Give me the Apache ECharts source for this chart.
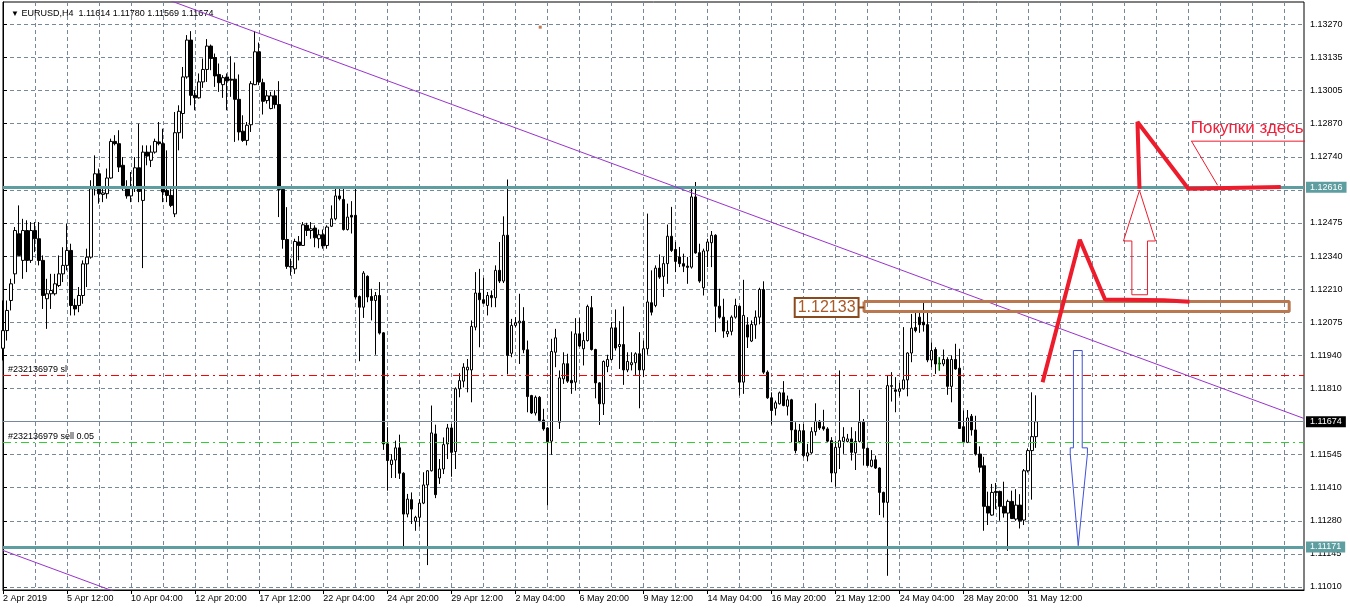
<!DOCTYPE html>
<html>
<head>
<meta charset="utf-8">
<script src="https://cdn.jsdelivr.net/npm/echarts@6/dist/echarts.min.js"></script>
<style>
html, body { margin: 0; padding: 0; background: #fff; }
#chart { width: 1350px; height: 611px; }
</style>
</head>
<body>
<div id="chart"></div>
<script>
"use strict";
var chartFont = 'Liberation Sans, Arial, sans-serif';
var gridColor = '#778899';

/* EURUSD H4 bars, 2 Apr 2019 20:00 .. 31 May 2019 20:00 */
var opens = [1.11969,1.12040,1.12161,1.12268,1.12429,1.12322,1.12442,1.12322,1.12442,1.12409,
	1.12322,1.12168,1.12188,1.12188,1.12221,1.12268,1.12302,1.12362,1.12141,1.12141,
	1.12181,1.12308,1.12335,1.12610,1.12670,1.12587,1.12590,1.12653,1.12800,1.12791,
	1.12704,1.12613,1.12581,1.12613,1.12694,1.12563,1.12757,1.12724,1.12757,1.12798,
	1.12791,1.12603,1.12583,1.12509,1.12835,1.12912,1.13059,1.13207,1.12985,1.12975,
	1.13039,1.13089,1.13183,1.13137,1.13069,1.13028,1.13059,1.13050,1.13050,1.12969,
	1.12841,1.12804,1.12867,1.13028,1.13160,1.13036,1.12964,1.12932,1.12983,1.12948,
	1.12607,1.12406,1.12298,1.12288,1.12396,1.12382,1.12463,1.12442,1.12452,1.12409,
	1.12425,1.12382,1.12459,1.12489,1.12581,1.12567,1.12446,1.12503,1.12503,1.12177,
	1.12134,1.12258,1.12177,1.12161,1.12181,1.12031,1.11585,1.11502,1.11520,1.11569,
	1.11467,1.11303,1.11361,1.11274,1.11290,1.11347,1.11420,1.11477,1.11625,1.11448,
	1.11484,1.11585,1.11649,1.11554,1.11806,1.11837,1.11882,1.11882,1.12054,1.12191,
	1.12164,1.12141,1.12181,1.12172,1.12282,1.12239,1.12423,1.11949,1.12061,1.12071,
	1.12078,1.11963,1.11779,1.11709,1.11772,1.11681,1.11649,1.11596,1.11953,1.11672,
	1.11846,1.11907,1.11840,1.11833,1.12027,1.11967,1.12000,1.12132,1.11964,1.11830,
	1.11746,1.11896,1.11924,1.12051,1.11976,1.11984,1.11882,1.11903,1.11911,1.11947,
	1.11882,1.11967,1.12152,1.12141,1.12291,1.12258,1.12309,1.12419,1.12366,1.12336,
	1.12309,1.12299,1.12295,1.12577,1.12353,1.12212,1.12360,1.12393,1.12423,1.12138,
	1.12094,1.12027,1.12037,1.12094,1.12138,1.11833,1.12063,1.11998,1.12063,1.12094,
	1.12205,1.11873,1.11770,1.11728,1.11746,1.11790,1.11736,1.11762,1.11641,1.11594,
	1.11638,1.11536,1.11549,1.11634,1.11676,1.11654,1.11645,1.11598,1.11468,1.11571,
	1.11595,1.11595,1.11605,1.11549,1.11595,1.11672,1.11567,1.11495,1.11521,1.11488,
	1.11390,1.11350,1.11816,1.11802,1.11796,1.11806,1.11842,1.11950,1.12052,1.12094,
	1.12074,1.12064,1.11922,1.11964,1.11906,1.11906,1.11924,1.11816,1.11924,1.11889,
	1.11654,1.11591,1.11696,1.11641,1.11544,1.11497,1.11334,1.11299,1.11394,1.11394,
	1.11334,1.11307,1.11354,1.11283,1.11339,1.11279,1.11477,1.11558,1.11614];

var highs = [1.12161,1.12161,1.12248,1.12456,1.12543,1.12489,1.12483,1.12476,1.12476,1.12476,
	1.12342,1.12248,1.12268,1.12268,1.12342,1.12375,1.12469,1.12389,1.12168,1.12215,
	1.12322,1.12369,1.12644,1.12744,1.12691,1.12617,1.12691,1.12811,1.12825,1.12845,
	1.12737,1.12644,1.12677,1.12737,1.12871,1.12784,1.12784,1.12784,1.12811,1.12878,
	1.12851,1.12764,1.12610,1.12918,1.12945,1.13099,1.13227,1.13243,1.13006,1.13073,
	1.13133,1.13211,1.13189,1.13153,1.13113,1.13066,1.13073,1.13142,1.13117,1.13069,
	1.12905,1.12878,1.13042,1.13243,1.13197,1.13052,1.13006,1.12999,1.13006,1.13042,
	1.12613,1.12536,1.12329,1.12409,1.12420,1.12476,1.12473,1.12476,1.12463,1.12446,
	1.12446,1.12463,1.12543,1.12617,1.12617,1.12617,1.12550,1.12560,1.12610,1.12181,
	1.12279,1.12262,1.12208,1.12195,1.12235,1.12034,1.11652,1.11544,1.11598,1.11622,
	1.11471,1.11384,1.11390,1.11296,1.11363,1.11471,1.11480,1.11739,1.11662,1.11524,
	1.11611,1.11665,1.11665,1.11812,1.11869,1.11909,1.11926,1.12081,1.12275,1.12288,
	1.12252,1.12195,1.12201,1.12302,1.12396,1.12499,1.12647,1.12087,1.12094,1.12188,
	1.12134,1.12000,1.11782,1.11779,1.11777,1.11726,1.11652,1.12007,1.12047,1.11880,
	1.11953,1.11947,1.12037,1.12090,1.12090,1.12034,1.12144,1.12179,1.11967,1.11833,
	1.11920,1.11943,1.12074,1.12125,1.12078,1.12137,1.11953,1.11953,1.11953,1.12034,
	1.12000,1.12510,1.12282,1.12302,1.12346,1.12336,1.12466,1.12537,1.12396,1.12376,
	1.12349,1.12336,1.12617,1.12637,1.12389,1.12369,1.12409,1.12440,1.12427,1.12208,
	1.12168,1.12081,1.12101,1.12168,1.12141,1.12244,1.12094,1.12081,1.12121,1.12212,
	1.12238,1.11880,1.11792,1.11759,1.11795,1.11837,1.11779,1.11766,1.11672,1.11665,
	1.11665,1.11585,1.11652,1.11748,1.11681,1.11722,1.11652,1.11612,1.11598,1.11880,
	1.11652,1.11625,1.11652,1.11636,1.11803,1.11685,1.11571,1.11560,1.11538,1.11491,
	1.11393,1.11859,1.11873,1.11853,1.11830,1.12054,1.11953,1.12107,1.12117,1.12111,
	1.12154,1.12114,1.11993,1.11973,1.11933,1.11964,1.11933,1.11940,1.11987,1.11967,
	1.11719,1.11721,1.11705,1.11698,1.11575,1.11533,1.11393,1.11424,1.11428,1.11397,
	1.11433,1.11361,1.11397,1.11403,1.11383,1.11484,1.11567,1.11792,1.11780];

var lows = [1.11920,1.12000,1.12121,1.12228,1.12342,1.12248,1.12275,1.12312,1.12355,1.12302,
	1.12127,1.12047,1.12127,1.12181,1.12215,1.12235,1.12282,1.12101,1.12101,1.12114,
	1.12148,1.12215,1.12329,1.12583,1.12550,1.12556,1.12570,1.12650,1.12784,1.12677,
	1.12603,1.12570,1.12556,1.12597,1.12556,1.12291,1.12704,1.12697,1.12751,1.12784,
	1.12556,1.12556,1.12536,1.12496,1.12764,1.12811,1.13052,1.12945,1.12925,1.12972,
	1.13015,1.13039,1.13086,1.13019,1.12999,1.12975,1.12925,1.12979,1.12798,1.12804,
	1.12798,1.12784,1.12838,1.13026,1.13026,1.12908,1.12952,1.12929,1.12932,1.12496,
	1.12369,1.12288,1.12261,1.12268,1.12322,1.12380,1.12420,1.12409,1.12375,1.12371,
	1.12369,1.12369,1.12456,1.12483,1.12563,1.12442,1.12442,1.12430,1.12168,1.11917,
	1.12091,1.12154,1.12081,1.11943,1.12024,1.11561,1.11397,1.11448,1.11448,1.11444,
	1.11162,1.11290,1.11263,1.11236,1.11252,1.11343,1.11098,1.11474,1.11367,1.11424,
	1.11464,1.11524,1.11453,1.11484,1.11772,1.11812,1.11792,1.11752,1.12041,1.11973,
	1.12148,1.12101,1.12134,1.12134,1.12231,1.12231,1.11864,1.11933,1.12054,1.11906,
	1.11949,1.11712,1.11705,1.11699,1.11672,1.11638,1.11337,1.11541,1.11893,1.11645,
	1.11826,1.11830,1.11786,1.11799,1.11974,1.11900,1.11996,1.11960,1.11768,1.11661,
	1.11701,1.11873,1.11920,1.11960,1.11886,1.11822,1.11873,1.11880,1.11860,1.11728,
	1.11853,1.11943,1.12101,1.12134,1.12248,1.12175,1.12228,1.12356,1.12275,1.12295,
	1.12275,1.12228,1.12289,1.12349,1.12232,1.12181,1.12295,1.12295,1.12034,1.12088,
	1.12011,1.12014,1.12021,1.12088,1.11779,1.11786,1.11970,1.11994,1.12007,1.12065,
	1.11866,1.11766,1.11663,1.11699,1.11743,1.11736,1.11699,1.11591,1.11547,1.11587,
	1.11531,1.11515,1.11545,1.11618,1.11641,1.11638,1.11591,1.11431,1.11413,1.11484,
	1.11545,1.11591,1.11518,1.11480,1.11591,1.11498,1.11494,1.11491,1.11484,1.11299,
	1.11289,1.11055,1.11755,1.11712,1.11776,1.11803,1.11776,1.11913,1.12033,1.12031,
	1.12036,1.11913,1.11893,1.11866,1.11879,1.11897,1.11782,1.11752,1.11883,1.11645,
	1.11591,1.11588,1.11618,1.11538,1.11470,1.11236,1.11259,1.11296,1.11323,1.11276,
	1.11289,1.11155,1.11283,1.11276,1.11245,1.11259,1.11470,1.11361,1.11569];

var closes = [1.12040,1.12121,1.12228,1.12442,1.12342,1.12442,1.12322,1.12442,1.12409,1.12322,
	1.12181,1.12188,1.12201,1.12228,1.12268,1.12302,1.12362,1.12141,1.12127,1.12181,
	1.12308,1.12335,1.12610,1.12670,1.12590,1.12593,1.12653,1.12800,1.12791,1.12697,
	1.12623,1.12581,1.12613,1.12694,1.12599,1.12757,1.12741,1.12757,1.12800,1.12791,
	1.12597,1.12583,1.12543,1.12835,1.12921,1.13059,1.13207,1.12985,1.12975,1.13039,
	1.13089,1.13183,1.13133,1.13063,1.13036,1.13056,1.13043,1.13046,1.12969,1.12838,
	1.12804,1.12865,1.13032,1.13160,1.13039,1.12961,1.12983,1.12983,1.12948,1.12607,
	1.12406,1.12298,1.12295,1.12398,1.12382,1.12465,1.12442,1.12449,1.12413,1.12425,
	1.12380,1.12456,1.12489,1.12581,1.12570,1.12446,1.12496,1.12496,1.12175,1.12134,
	1.12271,1.12175,1.12161,1.12181,1.12030,1.11585,1.11518,1.11520,1.11569,1.11467,
	1.11303,1.11363,1.11323,1.11290,1.11347,1.11420,1.11477,1.11629,1.11381,1.11484,
	1.11582,1.11649,1.11551,1.11806,1.11839,1.11893,1.11893,1.12057,1.12191,1.12164,
	1.12150,1.12181,1.12172,1.12282,1.12239,1.12423,1.11940,1.12061,1.12071,1.12078,
	1.11963,1.11775,1.11709,1.11772,1.11679,1.11645,1.11594,1.11956,1.12011,1.11850,
	1.11907,1.11837,1.11830,1.12027,1.11978,1.12000,1.12137,1.11964,1.11830,1.11746,
	1.11916,1.11924,1.12051,1.11970,1.11984,1.11882,1.11916,1.11911,1.11947,1.11882,
	1.11967,1.12155,1.12114,1.12291,1.12255,1.12309,1.12419,1.12362,1.12318,1.12309,
	1.12299,1.12294,1.12577,1.12352,1.12239,1.12360,1.12396,1.12423,1.12138,1.12094,
	1.12038,1.12037,1.12094,1.12141,1.11833,1.12101,1.12014,1.12065,1.12094,1.12205,
	1.11873,1.11770,1.11719,1.11750,1.11790,1.11739,1.11762,1.11641,1.11558,1.11638,
	1.11538,1.11549,1.11634,1.11676,1.11649,1.11645,1.11596,1.11468,1.11571,1.11598,
	1.11612,1.11605,1.11551,1.11595,1.11672,1.11567,1.11498,1.11520,1.11488,1.11390,
	1.11350,1.11819,1.11819,1.11796,1.11806,1.11842,1.11950,1.12050,1.12040,1.12064,
	1.12063,1.11922,1.11960,1.11906,1.11909,1.11924,1.11816,1.11924,1.11886,1.11647,
	1.11594,1.11689,1.11641,1.11544,1.11491,1.11334,1.11307,1.11390,1.11390,1.11334,
	1.11307,1.11354,1.11285,1.11339,1.11276,1.11477,1.11558,1.11614,1.11674];

/* axis labels as printed by the terminal */
var xTickLabels = ['2 Apr 2019', '5 Apr 12:00', '10 Apr 04:00', '12 Apr 20:00', '17 Apr 12:00',
	'22 Apr 04:00', '24 Apr 20:00', '29 Apr 12:00', '2 May 04:00', '6 May 20:00', '9 May 12:00',
	'14 May 04:00', '16 May 20:00', '21 May 12:00', '24 May 04:00', '28 May 20:00', '31 May 12:00'];
var yTickLabels = ['1.11010', '1.11145', '1.11280', '1.11410', '1.11545', '1.11675', '1.11810',
	'1.11940', '1.12075', '1.12210', '1.12340', '1.12475', '1.12605', '1.12740', '1.12870',
	'1.13005', '1.13135', '1.13270'];

/* price levels */
var supportHigh = 1.12616;
var supportLow = 1.11171;
var bidPrice = 1.11674;
var stopLoss = 1.11860;
var sellPrice = 1.11592;
var boxPrice = 1.12133;

/* drawn objects, points as [bar index, price] */
var trendUpper = [[40, 1.13376], [325, 1.11687]];
var trendLower = [[0, 1.11157], [30, 1.10979]];
var zigzagLow = [[259.7, 1.11833], [269.0, 1.12405], [275.3, 1.12165], [290.0, 1.12162], [296.4, 1.12156]];
var zigzagHigh = [[283.9, 1.12610], [283.4, 1.12878], [296.1, 1.12610], [319.2, 1.12617]];
var arrowUp = [[283.9, 1.12603], [287.9, 1.12400], [285.9, 1.12400], [285.9, 1.12184],
	[282.0, 1.12184], [282.0, 1.12400], [279.9, 1.12400], [283.9, 1.12603]];
var arrowDown = [[267.4, 1.11960], [269.6, 1.11960], [269.6, 1.11569], [270.9, 1.11569],
	[270.9, 1.11545], [268.6, 1.11176], [266.6, 1.11545], [266.6, 1.11569], [267.4, 1.11569], [267.4, 1.11960]];
var levelBox = [[215.1, 1.12157], [321.3, 1.12157], [321.3, 1.12117], [215.1, 1.12117], [215.1, 1.12157]];
var boxLink = [[213.6, 1.12133], [215.1, 1.12133]];
var calloutLine = [[296.8, 1.12801], [326, 1.12801]];
var calloutTail = [[296.9, 1.12801], [303.4, 1.12624]];
var calloutText = [296.6, 1.12851];
var orderMark = [[233.8, 1.11933], [233.8, 1.11879]];
var dotMark = [134.2, 1.13259];

var slotCount = 326;
var barSlots = [];
for (var i = 0; i < slotCount; i++) {
	barSlots.push(String(i));
}
var priceStep = (1.13270 - 1.11010) / (yTickLabels.length - 1);
var gridPrices = yTickLabels.map(function(s, k) {
	return 1.11010 + k * priceStep;
});
var candles = opens.map(function(o, k) {
	return [o, closes[k], lows[k], highs[k]];
});
var last = opens.length - 1;

function showDateTick(index) {
	return index % 16 === 0 && index / 16 < xTickLabels.length;
}

function drawing(data, color, width, extra) {
	var s = {
		type : 'line',
		xAxisIndex : 1,
		yAxisIndex : 0,
		data : data,
		symbol : 'none',
		silent : true,
		z : 6,
		lineStyle : {
			color : color,
			width : width
		}
	};
	for (var k in extra) {
		s[k] = extra[k];
	}
	return s;
}

function levelLine(price, color, width, type, label) {
	return [ {
		coord : [ 0, price ],
		lineStyle : {
			color : color,
			width : width,
			type : type
		},
		label : label
	}, {
		coord : [ slotCount - 1, price ]
	} ];
}

function priceBox(text, bg) {
	return {
		show : true,
		position : 'end',
		distance : 2,
		formatter : text,
		color : '#fff',
		backgroundColor : bg,
		padding : [ 1, 4, 1, 4 ],
		fontSize : 9,
		fontFamily : chartFont
	};
}

function orderLabel(text) {
	return {
		show : true,
		position : 'insideStartTop',
		distance : [ 5, 1 ],
		formatter : text,
		color : '#000',
		fontSize : 9,
		fontFamily : chartFont
	};
}

var chart = echarts.init(document.getElementById('chart'), null, { renderer : 'canvas' });

chart.setOption({
	animation : false,
	backgroundColor : '#fff',
	textStyle : {
		fontFamily : chartFont
	},
	title : {
		text : '{t|\u25BC} EURUSD,H4  ' + [ opens[last], highs[last], lows[last], closes[last] ].map(function(v) {
			return v.toFixed(5);
		}).join(' '),
		left : 6,
		top : 4,
		textStyle : {
			fontSize : 9,
			fontWeight : 'normal',
			color : '#000',
			fontFamily : chartFont,
			rich : {
				t : {
					fontSize : 8,
					color : '#000'
				}
			}
		}
	},
	grid : {
		left : 3,
		top : 2,
		right : 46,
		bottom : 21,
		show : true,
		borderColor : '#000',
		borderWidth : 1,
		backgroundColor : '#fff'
	},
	xAxis : [ {
		type : 'category',
		data : barSlots,
		boundaryGap : false,
		axisLine : {
			lineStyle : {
				color : '#000',
				width : 1
			}
		},
		axisTick : {
			show : true,
			interval : showDateTick,
			length : 4,
			lineStyle : {
				color : '#000'
			}
		},
		axisLabel : {
			interval : showDateTick,
			formatter : function(value, index) {
				return xTickLabels[Math.round(index / 16)] || '';
			},
			align : 'left',
			margin : 4,
			fontSize : 9,
			color : '#000',
			fontFamily : chartFont
		},
		splitLine : {
			show : true,
			interval : function(index) {
				return index % 8 === 0;
			},
			lineStyle : {
				color : gridColor,
				type : [ 4, 3 ],
				width : 1
			}
		}
	}, {
		type : 'value',
		min : 0,
		max : slotCount - 1,
		show : false
	} ],
	yAxis : [ {
		type : 'value',
		position : 'right',
		min : 1.10998,
		max : 1.13360,
		axisLine : {
			show : true,
			lineStyle : {
				color : '#000',
				width : 1
			}
		},
		axisTick : {
			show : true,
			length : 4,
			customValues : gridPrices,
			lineStyle : {
				color : '#000'
			}
		},
		axisLabel : {
			customValues : gridPrices,
			margin : 6,
			fontSize : 9,
			color : '#000',
			fontFamily : chartFont,
			formatter : function(v) {
				for (var k = 0; k < gridPrices.length; k++) {
					if (Math.abs(gridPrices[k] - v) < 1e-6) {
						return yTickLabels[k];
					}
				}
				return '';
			}
		},
		splitLine : {
			show : true,
			lineStyle : {
				color : gridColor,
				type : [ 4, 3 ],
				width : 1
			}
		}
	} ],
	series : [ {
		name : 'EURUSD,H4',
		type : 'candlestick',
		data : candles,
		barWidth : 3,
		silent : true,
		itemStyle : {
			color : '#fff',
			color0 : '#000',
			borderColor : '#000',
			borderColor0 : '#000',
			borderWidth : 1
		}
	},
	drawing(trendUpper, '#9932cc', 1, {
		markLine : {
			silent : true,
			symbol : [ 'none', 'none' ],
			animation : false,
			data : [
				levelLine(stopLoss, '#ff0000', 1, [ 8, 4, 2, 4 ], orderLabel('#232136979 sl')),
				levelLine(sellPrice, '#32cd32', 1, [ 8, 4, 2, 4 ], orderLabel('#232136979 sell 0.05')),
				levelLine(bidPrice, '#778899', 1, 'solid', priceBox(bidPrice.toFixed(5), '#000')),
				levelLine(supportHigh, '#5f9ea0', 3, 'solid', priceBox(supportHigh.toFixed(5), '#5f9ea0')),
				levelLine(supportLow, '#5f9ea0', 3, 'solid', priceBox(supportLow.toFixed(5), '#5f9ea0'))
			]
		}
	}),
	drawing(trendLower, '#9932cc', 1),
	drawing(levelBox, '#b9784f', 3, {
		markPoint : {
			silent : true,
			symbol : 'rect',
			symbolSize : 1,
			itemStyle : {
				color : 'rgba(0,0,0,0)'
			},
			data : [ {
				coord : boxLink[0],
				label : {
					show : true,
					position : 'left',
					distance : 0,
					formatter : boxPrice.toFixed(5),
					color : '#a85a28',
					fontSize : 16,
					fontFamily : chartFont,
					backgroundColor : '#fff',
					borderColor : '#8b4a1e',
					borderWidth : 2,
					padding : [ 1, 2, 0, 2 ]
				}
			} ]
		}
	}),
	drawing(boxLink, '#8b4a1e', 2),
	drawing(arrowDown, '#3f51d8', 1),
	drawing(arrowUp, '#ec1c2c', 1),
	drawing(zigzagLow, '#ec1c2c', 4),
	drawing(zigzagHigh, '#ec1c2c', 4),
	drawing(calloutTail, '#ec1c2c', 1),
	drawing(calloutLine, '#ec1c2c', 1, {
		markPoint : {
			silent : true,
			symbol : 'rect',
			symbolSize : 1,
			itemStyle : {
				color : 'rgba(0,0,0,0)'
			},
			data : [ {
				coord : calloutText,
				label : {
					show : true,
					position : 'right',
					distance : 0,
					formatter : 'Покупки здесь',
					color : '#f0203a',
					fontSize : 17,
					fontFamily : chartFont
				}
			}, {
				coord : dotMark,
				symbol : 'rect',
				symbolSize : 3,
				itemStyle : {
					color : '#c07850'
				},
				label : {
					show : false
				}
			} ]
		}
	}),
	drawing(orderMark, '#00c800', 1) ]
});
</script>
</body>
</html>
